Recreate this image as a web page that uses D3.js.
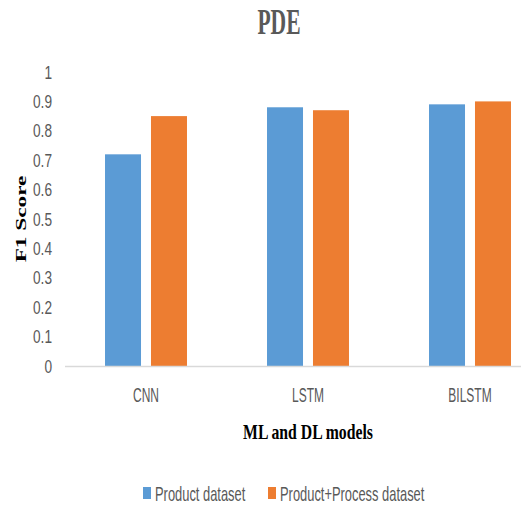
<!DOCTYPE html>
<html>
<head>
<meta charset="utf-8">
<script src="https://cdn.jsdelivr.net/npm/d3@7"></script>
<style>
  html, body { margin: 0; padding: 0; background: #fff; }
  svg { display: block; }
</style>
</head>
<body>
<div id="chart"></div>
<script>
// F1 scores per model, for the two datasets
const categories = ["CNN", "LSTM", "BILSTM"];
const seriesNames = ["Product dataset", "Product+Process dataset"];
const productValues = [0.72, 0.88, 0.89];
const productProcessValues = [0.85, 0.87, 0.90];
const yTicks = [0, 0.1, 0.2, 0.3, 0.4, 0.5, 0.6, 0.7, 0.8, 0.9, 1];
const colors = ["#5b9bd5", "#ed7d31"];

const width = 521, height = 505;
const plot = { left: 65, right: 551, top: 72, bottom: 366 };

const svg = d3.select("#chart").append("svg")
  .attr("width", width).attr("height", height);

const x0 = d3.scaleBand()
  .domain(categories)
  .range([plot.left, plot.right])
  .paddingInner(0.494)
  .paddingOuter(0.247);

const x1 = d3.scaleBand()
  .domain(seriesNames)
  .range([0, x0.bandwidth()])
  .paddingInner(0.217);

const y = d3.scaleLinear().domain([0, 1]).range([plot.bottom, plot.top]);

const color = d3.scaleOrdinal().domain(seriesNames).range(colors);

const rows = categories.map((c, i) => ({
  category: c,
  values: [
    { series: seriesNames[0], value: productValues[i] },
    { series: seriesNames[1], value: productProcessValues[i] }
  ]
}));

// Bars
svg.append("g").selectAll("g")
  .data(rows)
  .join("g")
  .attr("transform", d => `translate(${x0(d.category)},0)`)
  .selectAll("rect")
  .data(d => d.values)
  .join("rect")
  .attr("x", d => x1(d.series))
  .attr("y", d => y(d.value))
  .attr("width", x1.bandwidth())
  .attr("height", d => y(0) - y(d.value))
  .attr("fill", d => color(d.series));

// Baseline
svg.append("line")
  .attr("x1", plot.left).attr("x2", width)
  .attr("y1", y(0) + 0.5).attr("y2", y(0) + 0.5)
  .attr("stroke", "#d9d9d9").attr("stroke-width", 1.5);

// Text is drawn narrow and tall (condensed face)
const sansFont = "Liberation Sans, Arial, sans-serif";
const serifFont = "Liberation Serif, Times New Roman, serif";

// Y tick labels
const yAxis = d3.axisLeft(y).tickValues(yTicks).tickSize(0).tickPadding(0)
  .tickFormat(d3.format("~g"));
const yg = svg.append("g").attr("transform", "translate(52,0)").call(yAxis);
yg.select(".domain").remove();
yg.selectAll("text")
  .attr("x", 0).attr("dy", null)
  .attr("text-anchor", "end")
  .attr("dominant-baseline", "central")
  .attr("font-family", sansFont)
  .attr("font-size", 18)
  .attr("fill", "#595959")
  .attr("transform", "scale(0.76,1)");

// Category labels
const xAxis = d3.axisBottom(x0).tickSize(0).tickPadding(0);
const xg = svg.append("g").attr("transform", "translate(0,395)").call(xAxis);
xg.select(".domain").remove();
xg.selectAll("text")
  .attr("y", 0).attr("dy", null)
  .attr("dominant-baseline", "central")
  .attr("font-family", sansFont)
  .attr("font-size", 20)
  .attr("fill", "#595959")
  .attr("transform", "scale(0.6,1)");

// Title
svg.append("text")
  .attr("transform", "translate(279,34) scale(0.6,1)")
  .attr("text-anchor", "middle")
  .attr("font-family", serifFont)
  .attr("font-weight", "bold")
  .attr("font-size", 36)
  .attr("fill", "#595959")
  .text("PDE");

// X axis title
svg.append("text")
  .attr("transform", `translate(${(plot.left + plot.right) / 2},439) scale(0.75,1)`)
  .attr("text-anchor", "middle")
  .attr("font-family", serifFont)
  .attr("font-weight", "bold")
  .attr("font-size", 21)
  .attr("fill", "#000")
  .text("ML and DL models");

// Y axis title
svg.append("text")
  .attr("transform", `translate(26,${(plot.top + plot.bottom) / 2}) rotate(-90) scale(1.55,1)`)
  .attr("text-anchor", "middle")
  .attr("font-family", serifFont)
  .attr("font-weight", "bold")
  .attr("font-size", 15)
  .attr("fill", "#000")
  .text("F1 Score");

// Legend
const legendItems = [
  { name: seriesNames[0], x: 143 },
  { name: seriesNames[1], x: 268 }
];
const lg = svg.append("g").selectAll("g")
  .data(legendItems)
  .join("g")
  .attr("transform", d => `translate(${d.x},487)`);
lg.append("rect")
  .attr("width", 8).attr("height", 12)
  .attr("fill", d => color(d.name));
lg.append("text")
  .attr("transform", "translate(12,7) scale(0.645,1)")
  .attr("dominant-baseline", "central")
  .attr("font-family", sansFont)
  .attr("font-size", 20)
  .attr("fill", "#595959")
  .text(d => d.name);
</script>
</body>
</html>
